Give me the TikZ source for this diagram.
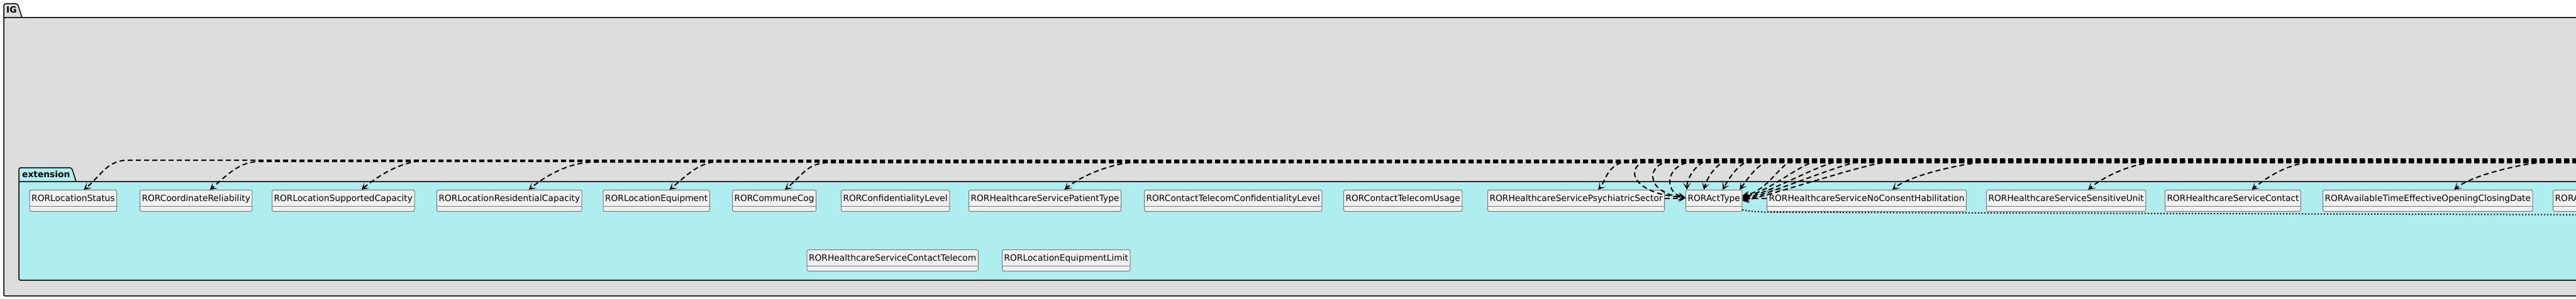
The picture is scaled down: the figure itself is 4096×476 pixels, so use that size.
\documentclass[tikz,border=0pt]{standalone}
\usepackage{fontspec}
\setmainfont{DejaVu Sans}
\usetikzlibrary{arrows.meta}

\definecolor{igfill}{HTML}{DDDDDD}
\definecolor{extfill}{HTML}{AFEEEE}
\definecolor{clsfill}{HTML}{F1F1F1}
\definecolor{clsline}{HTML}{777777}

\tikzset{
    pkg/.style={draw=black, line width=1.5pt},
    pkglabel/.style={anchor=base west, inner sep=0pt, font=\bfseries\fontsize{13.8}{16}\selectfont},
    cls/.style={draw=clsline, fill=clsfill, line width=1pt, rounded corners=2.5pt,
        anchor=north west, inner xsep=3pt, inner ysep=0pt,
        text height=18pt, text depth=16pt, font=\fontsize{13.8}{16}\selectfont,
        path picture={\draw[clsline, line width=1pt]
            ([yshift=8pt]path picture bounding box.south west) --
            ([yshift=8pt]path picture bounding box.south east);}},
    dep/.style={line width=2pt, dash pattern=on 8pt off 5pt,
        -{Stealth[length=11pt, width=12pt, inset=6pt]}},
    uses/.style={line width=2pt, dash pattern=on 2pt off 3pt},
}

\begin{document}
\begin{tikzpicture}[x=1pt, y=-1pt]
    \useasboundingbox (0,0) rectangle (4096,476);
    \clip (0,0) rectangle (4096,476);

    % IG package
    \filldraw[pkg, fill=igfill, rounded corners=3pt] (6,28) -- (6,6) -- (28,6) -- (35,28);
    \filldraw[pkg, fill=igfill, rounded corners=2pt] (6,28) rectangle (4200,471);
    \node[pkglabel] (iglabel) at (10,21) {IG};

    % extension package
    \filldraw[pkg, fill=extfill, rounded corners=3pt] (30,289) -- (30,267) -- (114,267) -- (121,289);
    \filldraw[pkg, fill=extfill, rounded corners=2pt] (30,289) rectangle (4200,446);
    \node[pkglabel] (extlabel) at (35,282) {extension};

    % classes, first row
    \foreach \x/\name/\txt in {46.7/locstatus/RORLocationStatus,
        222/coordrel/RORCoordinateReliability,
        432/supcap/RORLocationSupportedCapacity,
        694/rescap/RORLocationResidentialCapacity,
        958.5/equip/RORLocationEquipment,
        1164/commune/RORCommuneCog,
        1337/conflevel/RORConfidentialityLevel,
        1540/pattype/RORHealthcareServicePatientType,
        1819/telconf/RORContactTelecomConfidentialityLevel,
        2136/telusage/RORContactTelecomUsage,
        2365/psych/RORHealthcareServicePsychiatricSector,
        2680/acttype/RORActType,
        2809/noconsent/RORHealthcareServiceNoConsentHabilitation,
        3158/sensunit/RORHealthcareServiceSensitiveUnit,
        3442/hscontact/RORHealthcareServiceContact,
        3693/availtime/RORAvailableTimeEffectiveOpeningClosingDate,
        4059/typehours/RORAvailableTimeTypeOfHours}
        \node[cls] (\name) at (\x,302) {\txt};

    % classes, second row
    \node[cls] (hscontel) at (1282.5,397) {RORHealthcareServiceContactTelecom};
    \node[cls] (equiplimit) at (1593,397) {RORLocationEquipmentLimit};

    % dependencies coming in from the right
    \foreach \name/\off/\jx/\y in {locstatus/17/205/255, coordrel/22/415/257,
        supcap/29/676/256, rescap/31/944/258, equip/21/1147/257,
        commune/17/1319/259, pattype/31/1810/258, noconsent/41/3170/257,
        sensunit/35/3433/258, hscontact/30/3681/258, availtime/42/4060/257} {
        \coordinate (from-\name) at (4150,\y);
        \draw[dep] (from-\name) -- (\jx,\y) .. controls +(-35,0) and +(30,-25) .. ([xshift=\off pt]\name.north);
    }

    % ActType cluster
    \coordinate (from-psych) at (4150,254);
    \draw[dep] (from-psych) -- (2610,254) .. controls (2553,254) and (2556,285) .. ([xshift=35pt]psych.north);
    \foreach \i/\jx/\y/\vx in {1/2630/255/2583, 2/2665/256/2614, 3/2700/257/2645} {
        \coordinate (from-w\i) at (4150,\y);
        \draw[dep] (from-w\i) -- (\jx,\y) .. controls (\vx,\y) and (\vx,308) .. ([yshift=5pt]acttype.west);
    }
    \foreach \i/\off/\jx/\y/\sl in {1/-43/2725/253/0, 2/-16/2755/254/6, 3/14/2790/255/12, 4/41/2820/256/16} {
        \coordinate (from-n\i) at (4150,\y);
        \draw[dep] (from-n\i) -- (\jx,\y) .. controls +(-22,0) and +(\sl,-22) .. ([xshift=\off pt]acttype.north);
    }
    \foreach \i/\jx/\y/\dy in {1/2860/254/8, 2/2897/255/6, 3/2930/256/4, 4/2963/257/2, 5/3003/258/0} {
        \coordinate (from-e\i) at (4150,\y);
        \draw[dep] (from-e\i) -- (\jx,\y) .. controls +(-30,0) and +(45,-8) .. ([yshift=\dy pt]acttype.east);
    }
    \draw[dep] ([yshift=4pt]psych.east) -- ([yshift=4pt]acttype.west);
    \draw[dep] ([yshift=4pt]noconsent.west) -- ([yshift=4pt]acttype.east);
    \coordinate (to-right) at (4150,342);
    \draw[uses] ([yshift=3pt]acttype.south east) .. controls +(15,4) and +(-30,0) .. (2850,338) -- (to-right);
\end{tikzpicture}
\end{document}
